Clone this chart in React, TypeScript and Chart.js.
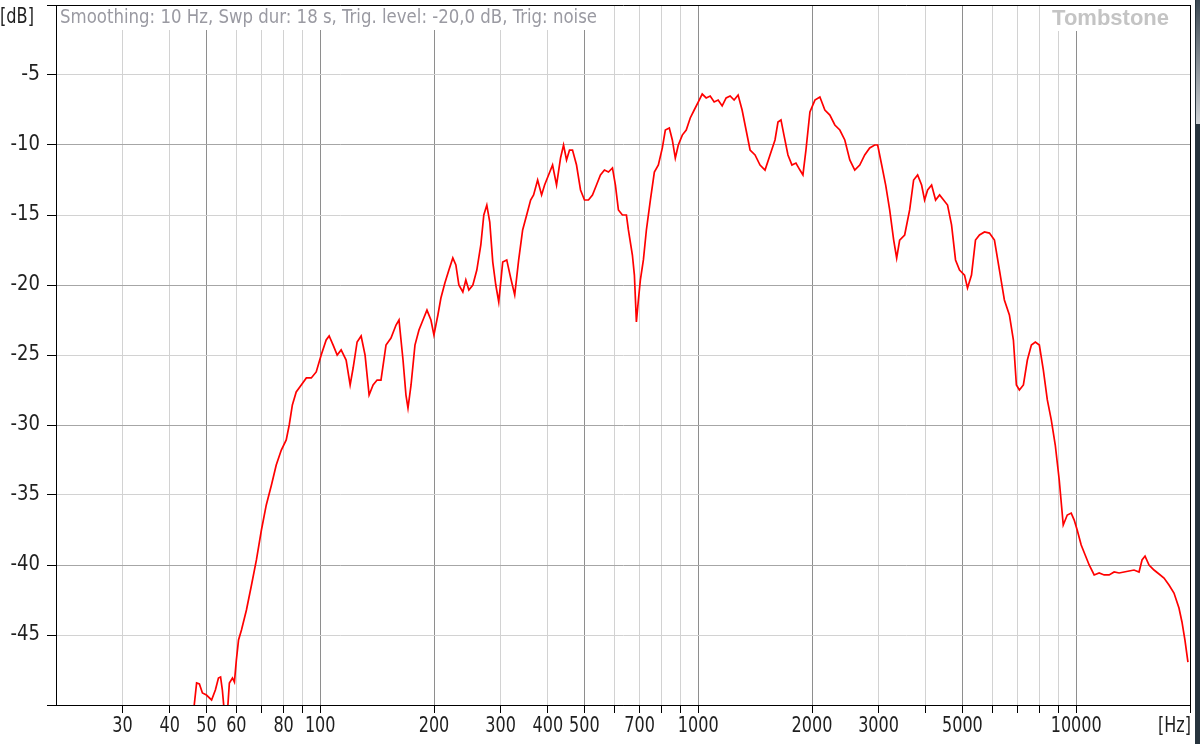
import React, { useEffect, useRef } from "react";
import { Chart, registerables } from "chart.js";

Chart.register(...registerables);

// Frequency (Hz) of each sample of the response curve
const FREQ = [
  46.0, 47.1, 47.9, 48.8, 50.0, 51.6, 52.8, 53.8, 54.5, 55.1, 55.8, 56.8, 57.5, 58.6, 59.3, 60.0,
  60.8, 61.9, 63.8, 65.8, 67.8, 69.9, 72.0, 74.3, 76.5, 78.9, 81.3, 82.8, 84.4, 86.4, 89.1, 91.9,
  94.7, 97.6, 100.6, 103.7, 105.6, 108.2, 110.9, 113.6, 117.1, 120.0, 122.2, 125.2, 128.3, 131.4,
  134.7, 138.0, 141.4, 144.8, 149.3, 153.9, 158.7, 161.6, 165.6, 168.6, 170.7, 173.9, 178.1, 182.5,
  187.0, 191.6, 196.3, 199.9, 204.8, 208.6, 213.7, 219.0, 224.3, 228.5, 232.7, 238.4, 242.8, 247.3,
  253.4, 259.6, 266.0, 270.9, 275.9, 280.9, 286.1, 291.4, 296.7, 304.0, 311.5, 319.1, 327.0, 335.0,
  343.2, 351.7, 360.3, 366.9, 376.0, 385.2, 392.3, 401.9, 411.8, 421.9, 432.3, 440.3, 448.4, 456.6,
  465.0, 476.5, 488.3, 500.2, 512.5, 525.1, 538.1, 551.3, 564.9, 578.8, 593.1, 603.9, 615.0, 630.2,
  645.7, 653.6, 669.7, 677.9, 686.2, 694.6, 703.1, 716.1, 729.3, 747.2, 765.6, 784.5, 803.7, 818.5,
  838.6, 854.1, 869.8, 885.8, 907.6, 929.7, 952.6, 975.9, 1000, 1024.7, 1049.8, 1075.7, 1102.1,
  1129.2, 1157.1, 1185.5, 1214.6, 1244.5, 1275.1, 1306.5, 1338.6, 1371.6, 1413.7, 1457.3, 1502.3,
  1548.8, 1596.4, 1625.7, 1655.6, 1686.0, 1727.6, 1770.1, 1813.6, 1858.3, 1892.4, 1927.5, 1974.9,
  2035.8, 2098.6, 2163.1, 2229.9, 2298.5, 2369.4, 2442.3, 2517.5, 2595.0, 2675.1, 2757.6, 2842.4,
  2930.2, 2984.0, 3057.8, 3133.1, 3210.1, 3289.4, 3349.8, 3411.6, 3516.8, 3625.4, 3714.4, 3805.9,
  3899.3, 3970.8, 4044.8, 4144.0, 4246.4, 4350.6, 4458.0, 4566.8, 4679.6, 4794.4, 4912.8, 5064.5,
  5157.4, 5284.4, 5414.2, 5547.8, 5719.1, 5894.2, 6076.9, 6264.7, 6456.5, 6656.3, 6820.9, 6946.3,
  7074.0, 7249.1, 7426.4, 7610.0, 7796.1, 7988.6, 8184.2, 8386.6, 8590.1, 8802.2, 9017.4, 9241.0,
  9469.3, 9700.1, 9878.3, 10060, 10308, 10561, 10822, 11156, 11500, 11855, 12221, 12598, 12987,
  13386, 13799, 14224, 14663, 14933, 15209, 15583, 16064, 16560, 17071, 17598, 18141, 18701, 19045,
  19394, 19751,
];

// Level (dB) of each sample
const LEVEL = [
  -51.0, -48.43, -48.5, -49.14, -49.29, -49.64, -48.93, -48.07, -48.0, -48.93, -50.6, -50.6, -48.43,
  -48.07, -48.36, -46.79, -45.36, -44.64, -43.21, -41.43, -39.64, -37.5, -35.71, -34.29, -32.86,
  -31.79, -31.07, -30.0, -28.57, -27.64, -27.14, -26.64, -26.64, -26.21, -25.0, -23.93, -23.64,
  -24.29, -25.0, -24.64, -25.36, -27.14, -25.93, -24.07, -23.64, -25.0, -27.86, -27.14, -26.79,
  -26.79, -24.29, -23.79, -22.86, -22.5, -25.36, -27.86, -28.79, -27.14, -24.29, -23.21, -22.5,
  -21.79, -22.5, -23.57, -22.14, -20.93, -19.86, -18.93, -18.07, -18.57, -20.0, -20.5, -19.64,
  -20.36, -20.0, -18.93, -17.14, -15.0, -14.29, -15.5, -18.36, -20.0, -21.21, -18.36, -18.21, -19.5,
  -20.71, -18.21, -16.07, -15.0, -13.93, -13.57, -12.5, -13.57, -12.86, -12.14, -11.43, -12.86,
  -10.93, -10.0, -11.07, -10.36, -10.36, -11.43, -13.21, -13.93, -13.93, -13.57, -12.86, -12.14,
  -11.79, -11.93, -11.64, -12.86, -14.64, -15.0, -15.0, -16.07, -17.86, -19.29, -22.64, -21.07,
  -19.64, -18.21, -16.07, -13.93, -11.93, -11.43, -10.21, -8.93, -8.79, -9.64, -10.93, -10.0, -9.29,
  -8.93, -8.07, -7.5, -6.93, -6.36, -6.64, -6.5, -6.93, -6.79, -7.21, -6.64, -6.5, -6.79, -6.43, -7.5,
  -8.93, -10.36, -10.71, -11.43, -11.79, -10.71, -9.64, -8.36, -8.21, -9.29, -10.71, -11.43, -11.29,
  -11.79, -12.14, -10.36, -7.64, -6.79, -6.57, -7.5, -7.86, -8.57, -8.93, -9.64, -11.07, -11.79,
  -11.43, -10.71, -10.21, -10.0, -10.0, -11.43, -12.86, -14.64, -16.79, -18.07, -16.79, -16.43,
  -14.64, -12.5, -12.14, -12.86, -13.93, -13.21, -12.86, -13.93, -13.57, -13.93, -14.29, -15.71,
  -18.21, -18.93, -19.29, -20.21, -19.29, -16.79, -16.43, -16.21, -16.29, -16.79, -18.93, -21.07,
  -22.14, -23.93, -27.14, -27.5, -27.14, -25.36, -24.29, -24.07, -24.29, -26.07, -28.21, -29.64,
  -31.43, -33.93, -37.14, -36.43, -36.29, -36.79, -37.5, -38.57, -39.29, -40.0, -40.71, -40.57,
  -40.71, -40.71, -40.5, -40.57, -40.5, -40.43, -40.36, -40.5, -39.64, -39.36, -40.0, -40.36, -40.64,
  -40.93, -41.43, -42.0, -43.07, -44.07, -45.36, -46.93,
];

const X_TICKS = [
  20, 30, 40, 50, 60, 70, 80, 90, 100, 200, 300, 400, 500, 600, 700, 800, 900, 1000, 2000, 3000,
  4000, 5000, 6000, 7000, 8000, 9000, 10000, 20000,
];
const X_MAJOR = [50, 100, 200, 500, 1000, 2000, 5000, 10000];
const X_LABELS = [30, 40, 50, 60, 80, 100, 200, 300, 400, 500, 700, 1000, 2000, 3000, 5000, 10000];
const Y_TICKS = [-50, -45, -40, -35, -30, -25, -20, -15, -10, -5, 0];
const Y_LABELS = [-45, -40, -35, -30, -25, -20, -15, -10, -5];
const Y_MAJOR = [-40, -30, -20, -10];

const TITLE = "Smoothing: 10 Hz, Swp dur: 18 s, Trig. level: -20,0 dB, Trig: noise";
const BRAND = "Tombstone";
const X_UNIT = "[Hz]";
const Y_UNIT = "[dB]";

const LABEL_FONT = '21px "DejaVu Sans Condensed", "Liberation Sans", sans-serif';
const TITLE_FONT = '19px "DejaVu Sans Condensed", "Liberation Sans", sans-serif';

const decorPlugin = {
  id: "decor",
  beforeDatasetsDraw(chart: any) {
    const ctx = chart.ctx as CanvasRenderingContext2D;
    const area = chart.chartArea;
    ctx.save();
    ctx.fillStyle = "#ffffff";
    ctx.fillRect(area.left + 1, area.top + 1, 545, 24);
    ctx.fillRect(1040, area.top + 1, 136, 25);
    ctx.textBaseline = "middle";
    ctx.fillStyle = "#9a9aa2";
    ctx.font = TITLE_FONT;
    ctx.textAlign = "left";
    ctx.fillText(TITLE, area.left + 4, 18, 537);
    ctx.fillStyle = "#c4c4c4";
    ctx.font = 'bold 22px "Liberation Sans", sans-serif';
    ctx.textAlign = "right";
    ctx.fillText(BRAND, 1169, 19, 124);
    ctx.restore();
  },
  afterDraw(chart: any) {
    const ctx = chart.ctx as CanvasRenderingContext2D;
    const xs = chart.scales.x;
    const ys = chart.scales.y;
    const area = chart.chartArea;
    ctx.save();
    ctx.fillStyle = "#1f1f1f";
    ctx.font = LABEL_FONT;
    ctx.textBaseline = "middle";
    ctx.textAlign = "center";
    X_LABELS.forEach((v) => {
      const t = String(v);
      ctx.fillText(t, xs.getPixelForValue(v), 727, t.length * 10.2);
    });
    ctx.textAlign = "right";
    ctx.fillText(X_UNIT, area.right + 1, 727, 33);
    Y_LABELS.forEach((v) => {
      const t = String(v);
      ctx.fillText(t, 40, ys.getPixelForValue(v), t.length * 9.8);
    });
    ctx.textAlign = "left";
    ctx.fillText(Y_UNIT, 0, 18, 34);
    // window edge strip
    ctx.fillStyle = "#27343d";
    ctx.fillRect(1195, 0, 5, 744);
    const g = ctx.createLinearGradient(0, 0, 0, 124);
    g.addColorStop(0, "#3a4751");
    g.addColorStop(1, "#cfd3d6");
    ctx.fillStyle = g;
    ctx.fillRect(1196, 0, 4, 124);
    ctx.restore();
  },
};

export default function App() {
  const ref = useRef<HTMLCanvasElement | null>(null);
  useEffect(() => {
    document.body.style.margin = "0";
    const canvas = ref.current;
    if (!canvas) return;
    const points = FREQ.map((f, i) => ({ x: f, y: LEVEL[i] }));
    const chart = new Chart(canvas, {
      type: "line",
      data: {
        datasets: [
          {
            data: points,
            borderColor: "#ff0000",
            borderWidth: 1.7,
            pointRadius: 0,
            tension: 0,
            fill: false,
          },
        ],
      },
      options: {
        animation: false,
        responsive: false,
        events: [],
        layout: { padding: { left: 0, top: 5, right: 10, bottom: 0 } },
        plugins: { legend: { display: false }, tooltip: { enabled: false } },
        scales: {
          x: {
            type: "logarithmic",
            min: 20,
            max: 20000,
            afterBuildTicks: (s: any) => {
              s.ticks = X_TICKS.map((v) => ({ value: v }));
            },
            afterFit: (s: any) => {
              s.height = 39;
            },
            ticks: { display: false },
            grid: {
              color: (c: any) => {
                const v = c.tick?.value;
                if (v === 20 || v === 20000) return "#000000";
                return X_MAJOR.includes(v) ? "#8e8e8e" : "#d2d2d2";
              },
              tickColor: (c: any) => (c.tick?.value === 20 ? "rgba(0,0,0,0)" : "#000000"),
              tickLength: 8,
              lineWidth: 1,
            },
            border: { color: "#000000", width: 1 },
          },
          y: {
            type: "linear",
            min: -50,
            max: 0,
            afterBuildTicks: (s: any) => {
              s.ticks = Y_TICKS.map((v) => ({ value: v }));
            },
            afterFit: (s: any) => {
              s.width = 56;
            },
            ticks: { display: false },
            grid: {
              color: (c: any) => {
                const v = c.tick?.value;
                if (v === 0 || v === -50) return "#000000";
                return Y_MAJOR.includes(v) ? "#a6a6a6" : "#d2d2d2";
              },
              tickColor: "#000000",
              tickLength: 9,
              lineWidth: 1,
            },
            border: { color: "#000000", width: 1 },
          },
        },
      },
      plugins: [decorPlugin],
    } as any);
    return () => chart.destroy();
  }, []);
  return <canvas ref={ref} width={1200} height={744} style={{ display: "block" }} />;
}
